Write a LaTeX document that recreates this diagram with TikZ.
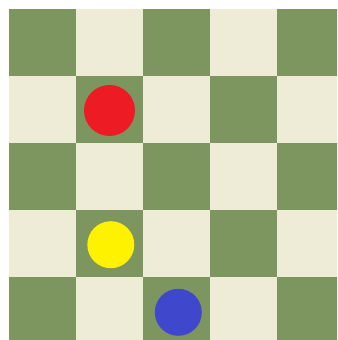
\documentclass[tikz,border=0pt]{standalone}
\definecolor{boardgreen}{RGB}{125,149,94}
\definecolor{boardlight}{RGB}{238,236,215}
\definecolor{pred}{RGB}{237,28,36}
\definecolor{pyellow}{RGB}{255,242,0}
\definecolor{pblue}{RGB}{63,72,204}
\begin{document}
\begin{tikzpicture}[x=0.5pt,y=-0.5pt,
  piece/.style={circle,inner sep=0pt,draw=none}]
\useasboundingbox[fill=white] (0,0) rectangle (337,340);
\begin{scope}
\clip (0,0) rectangle (337,340);
\foreach \i in {0,...,4}{
  \foreach \j in {0,...,4}{
    \pgfmathtruncatemacro{\parity}{mod(\i+\j,2)}
    \ifnum\parity=0
      \fill[boardgreen] ({9+67*\i},{9+67*\j}) rectangle ++(67,67);
    \else
      \fill[boardlight] ({9+67*\i},{9+67*\j}) rectangle ++(67,67);
    \fi
  }
}
\end{scope}
\node[piece,fill=pred,minimum size=25.5pt] (red) at (109.5,110.5) {};
\node[piece,fill=pyellow,minimum size=23.5pt] (yellow) at (110.8,244.7) {};
\node[piece,fill=pblue,minimum size=23.5pt] (blue) at (178.3,312.3) {};
\end{tikzpicture}
\end{document}
